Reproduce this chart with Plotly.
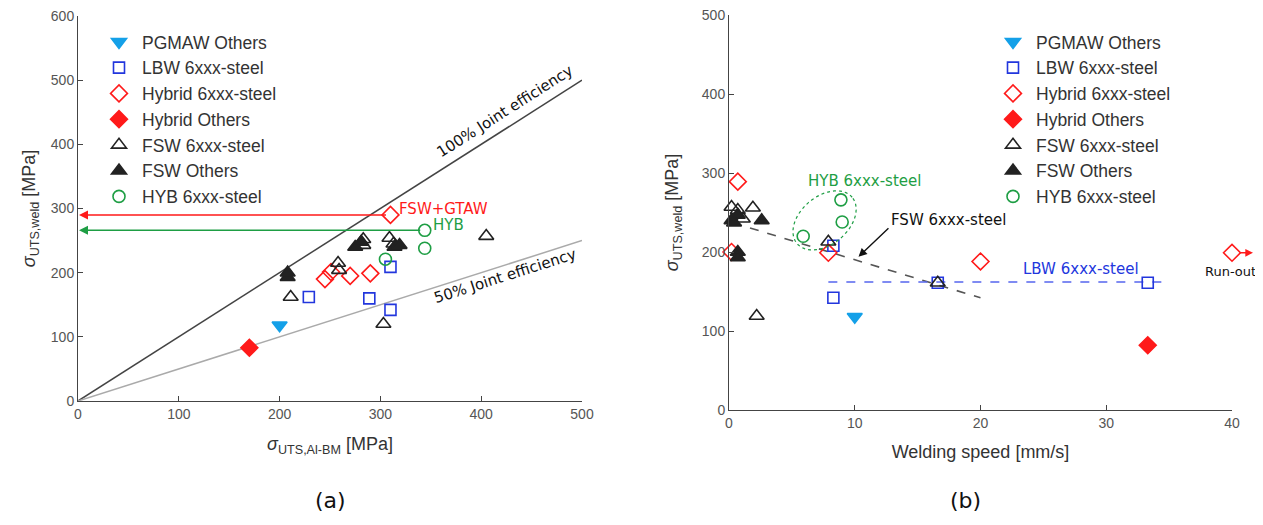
import numpy as np
import plotly.graph_objects as go

# page has an 8px body margin: figure spans 8..1255 x 8..517
OFF = 8
FW, FH = 1247, 509

# ---------------- data: panel (a) ----------------
a_pgmaw_x = [200]; a_pgmaw_y = [118]
a_lbw_x = [229, 289, 310, 310]; a_lbw_y = [162, 160, 209, 142]
a_hyb6_x = [310, 245, 251, 270, 290]; a_hyb6_y = [290, 190, 201, 195, 199]
a_hybo_x = [170]; a_hybo_y = [83]
a_fsw6_x = [211, 258, 259, 283, 283, 309, 313, 405, 303]
a_fsw6_y = [162, 215, 204, 252, 243, 254, 245, 257, 120]
a_fswo_x = [208, 208, 275, 281, 314, 319]
a_fswo_y = [193, 200, 240, 248, 240, 243]
a_hybs_x = [344, 344, 305]; a_hybs_y = [266, 238, 221]
eff_x = [0, 500]
eff_100 = [0, 500]
eff_50 = [0, 250]

# ---------------- data: panel (b) ----------------
b_pgmaw_x = [10]; b_pgmaw_y = [118]
b_lbw_x = [8.3, 8.3, 16.6, 33.3]; b_lbw_y = [208, 142, 161, 161]
b_hyb6_x = [0.7, 0.2, 7.9, 20, 40]; b_hyb6_y = [289, 200, 199, 188, 199]
b_hybo_x = [33.3]; b_hybo_y = [82]
b_fsw6_x = [0.2, 0.7, 1.9, 1.1, 7.9, 16.6, 2.2]
b_fsw6_y = [257, 253, 256, 242, 213, 161, 119]
b_fswo_x = [0.2, 0.7, 2.6, 0.7, 0.7, 0.4]
b_fswo_y = [240, 247, 240, 200, 193, 237]
b_hybs_x = [5.9, 8.9, 9.0]; b_hybs_y = [220, 266, 238]
fsw_trend_x = [0.3, 20]; fsw_trend_y = [237, 142]
lbw_trend_x = [7.9, 34.9]; lbw_trend_y = [162, 162]

# ---------------- style ----------------
C_PG = "#14a0e8"; C_BL = "#2236dd"; C_RD = "#ff1a1a"; C_BK = "#222222"; C_GR = "#1e9e44"
series = [
    ("PGMAW Others", "triangle-down", C_PG, 13),
    ("LBW 6xxx-steel", "square-open", C_BL, 11),
    ("Hybrid 6xxx-steel", "diamond-open", C_RD, 13),
    ("Hybrid Others", "diamond", C_RD, 13),
    ("FSW 6xxx-steel", "triangle-up-open", C_BK, 13),
    ("FSW Others", "triangle-up", C_BK, 13),
    ("HYB 6xxx-steel", "circle-open", C_GR, 12),
]
a_data = [(a_pgmaw_x, a_pgmaw_y), (a_lbw_x, a_lbw_y), (a_hyb6_x, a_hyb6_y), (a_hybo_x, a_hybo_y),
          (a_fsw6_x, a_fsw6_y), (a_fswo_x, a_fswo_y), (a_hybs_x, a_hybs_y)]
b_data = [(b_pgmaw_x, b_pgmaw_y), (b_lbw_x, b_lbw_y), (b_hyb6_x, b_hyb6_y), (b_hybo_x, b_hybo_y),
          (b_fsw6_x, b_fsw6_y), (b_fswo_x, b_fswo_y), (b_hybs_x, b_hybs_y)]

fig = go.Figure()

fig.add_trace(go.Scatter(x=eff_x, y=eff_100, mode="lines", line=dict(color="#444", width=1.5),
                         showlegend=False, xaxis="x", yaxis="y", hoverinfo="skip"))
fig.add_trace(go.Scatter(x=eff_x, y=eff_50, mode="lines", line=dict(color="#aaaaaa", width=1.5),
                         showlegend=False, xaxis="x", yaxis="y", hoverinfo="skip"))
fig.add_trace(go.Scatter(x=fsw_trend_x, y=fsw_trend_y, mode="lines",
                         line=dict(color="#555", width=1.6, dash="dash"),
                         showlegend=False, xaxis="x2", yaxis="y2", hoverinfo="skip"))
fig.add_trace(go.Scatter(x=lbw_trend_x, y=lbw_trend_y, mode="lines",
                         line=dict(color="#5566ee", width=1.4, dash="dash"),
                         showlegend=False, xaxis="x2", yaxis="y2", hoverinfo="skip"))

for (name, sym, col, sz), (xs, ys) in zip(series, a_data):
    fig.add_trace(go.Scatter(x=xs, y=ys, mode="markers", name=name, legend="legend",
                             marker=dict(symbol=sym, color=col, size=sz, line=dict(color=col, width=1.6)),
                             xaxis="x", yaxis="y"))
for (name, sym, col, sz), (xs, ys) in zip(series, b_data):
    fig.add_trace(go.Scatter(x=xs, y=ys, mode="markers", name=name, legend="legend2",
                             marker=dict(symbol=sym, color=col, size=sz, line=dict(color=col, width=1.6)),
                             xaxis="x2", yaxis="y2", cliponaxis=False))

# pixel boxes on the page (left, right, top, bottom)
ax_a = (78, 582, 16, 401); ax_b = (729, 1232, 15, 410)
def px(x): return (x - OFF) / FW
def py(y): return 1 - (y - OFF) / FH
def dom_x(a): return [px(a[0]), px(a[1])]
def dom_y(a): return [py(a[3]), py(a[2])]

tickfont = dict(family="Liberation Sans, Arial", size=14, color="#555")
titlefont = dict(family="Liberation Sans, Arial", size=18, color="#333")
common = dict(showline=True, linecolor="#444", linewidth=1, ticks="inside", ticklen=5,
              tickcolor="#444", showgrid=False, zeroline=False, tickfont=tickfont,
              automargin=False, mirror=False, ticklabeloverflow="allow")

legfont = dict(family="Liberation Sans, Arial", size=17.5, color="#333")
fig.update_layout(
    width=FW, height=FH, margin=dict(l=0, r=0, t=0, b=0),
    plot_bgcolor="white", paper_bgcolor="white",
    xaxis=dict(domain=dom_x(ax_a), range=[0, 500], dtick=100, anchor="y",
               title=dict(text="<i>σ</i><sub>UTS,Al-BM</sub> [MPa]", font=titlefont, standoff=16), **common),
    yaxis=dict(domain=dom_y(ax_a), range=[0, 600], dtick=100, anchor="x",
               title=dict(text="<i>σ</i><sub>UTS,weld</sub> [MPa]", font=titlefont, standoff=10), **common),
    xaxis2=dict(domain=dom_x(ax_b), range=[0, 40], dtick=10, anchor="y2",
                title=dict(text="Welding speed [mm/s]", font=titlefont, standoff=15), **common),
    yaxis2=dict(domain=dom_y(ax_b), range=[0, 500], dtick=100, anchor="x2",
                title=dict(text="<i>σ</i><sub>UTS,weld</sub> [MPa]", font=titlefont, standoff=18), **common),
    legend=dict(x=px(96), y=py(24), xanchor="left", yanchor="top", bgcolor="rgba(0,0,0,0)",
                font=legfont, tracegroupgap=0, itemwidth=36),
    legend2=dict(x=px(990), y=py(24), xanchor="left", yanchor="top", bgcolor="rgba(0,0,0,0)",
                 font=legfont, tracegroupgap=0, itemwidth=36),
)

ann_font = "DejaVu Sans, Verdana"
ann = []
ann.append(dict(x=1, y=a_hyb6_y[0], ax=a_hyb6_x[0] - 3, ay=a_hyb6_y[0], xref="x", yref="y", axref="x", ayref="y",
                text="", showarrow=True, arrowhead=2, arrowsize=1.2, arrowwidth=1.5, arrowcolor=C_RD))
ann.append(dict(x=1, y=a_hybs_y[0], ax=a_hybs_x[0] - 3, ay=a_hybs_y[0], xref="x", yref="y", axref="x", ayref="y",
                text="", showarrow=True, arrowhead=2, arrowsize=1.2, arrowwidth=1.5, arrowcolor=C_GR))
ann.append(dict(x=316, y=300, xref="x", yref="y", text="FSW+GTAW", showarrow=False, xanchor="left",
                font=dict(family=ann_font, size=15, color=C_RD)))
ann.append(dict(x=350, y=275, xref="x", yref="y", text="HYB", showarrow=False, xanchor="left",
                font=dict(family=ann_font, size=15, color=C_GR)))
ang100 = np.degrees(np.arctan((eff_100[1] * 385 / 600) / (eff_x[1] * 504 / 500)))
ang50 = np.degrees(np.arctan((eff_50[1] * 385 / 600) / (eff_x[1] * 504 / 500)))
ann.append(dict(x=424, y=452, xref="x", yref="y", text="100% Joint efficiency", showarrow=False,
                textangle=-ang100, font=dict(family=ann_font, size=15, color="#111")))
ann.append(dict(x=424, y=195, xref="x", yref="y", text="50% Joint efficiency", showarrow=False,
                textangle=-ang50, font=dict(family=ann_font, size=15, color="#111")))
ann.append(dict(x=10.8, y=290, xref="x2", yref="y2", text="HYB 6xxx-steel", showarrow=False,
                font=dict(family=ann_font, size=15, color=C_GR)))
ann.append(dict(x=12.7, y=241, xref="x2", yref="y2", text="FSW 6xxx-steel", showarrow=False, xanchor="left",
                font=dict(family=ann_font, size=15, color="#111")))
ann.append(dict(x=10.3, y=194, ax=12.8, ay=232, xref="x2", yref="y2", axref="x2", ayref="y2", text="",
                showarrow=True, arrowhead=2, arrowsize=1.2, arrowwidth=1.4, arrowcolor="#111"))
ann.append(dict(x=28, y=178, xref="x2", yref="y2", text="LBW 6xxx-steel", showarrow=False,
                font=dict(family=ann_font, size=15, color=C_BL)))
# run-out arrow (outside the axis range -> paper coordinates)
ro_ypix = ax_b[3] - b_hyb6_y[-1] * (ax_b[3] - ax_b[2]) / 500.0
ann.append(dict(x=px(1253), y=py(ro_ypix), xref="paper", yref="paper", ax=-15, ay=0,
                text="", showarrow=True, arrowhead=2, arrowsize=1.1, arrowwidth=1.4, arrowcolor=C_RD))
ann.append(dict(x=39.9, y=175, xref="x2", yref="y2", text="Run-out", showarrow=False,
                font=dict(family=ann_font, size=13, color="#111")))
ann.append(dict(x=px(330), y=py(500), xref="paper", yref="paper", text="(a)", showarrow=False,
                xanchor="center", yanchor="middle", font=dict(family=ann_font, size=22, color="#111")))
ann.append(dict(x=px(965), y=py(500), xref="paper", yref="paper", text="(b)", showarrow=False,
                xanchor="center", yanchor="middle", font=dict(family=ann_font, size=22, color="#111")))
fig.update_layout(annotations=ann)

# dotted ellipse around HYB points in (b)
sx = (ax_b[1] - ax_b[0]) / 40.0; sy = (ax_b[3] - ax_b[2]) / 500.0
cx, cy = 7.6, 240.0
a_px, b_px, th = 36, 24, np.radians(40)
t = np.linspace(0, 2 * np.pi, 60)
ex = cx + (a_px * np.cos(t) * np.cos(th) - b_px * np.sin(t) * np.sin(th)) / sx
ey = cy + (a_px * np.cos(t) * np.sin(th) + b_px * np.sin(t) * np.cos(th)) / sy
path = "M " + " L ".join(f"{x:.3f},{y:.3f}" for x, y in zip(ex, ey)) + " Z"
fig.add_shape(type="path", path=path, xref="x2", yref="y2", line=dict(color=C_GR, width=1.2, dash="dot"))

fig.write_html("out.html")
